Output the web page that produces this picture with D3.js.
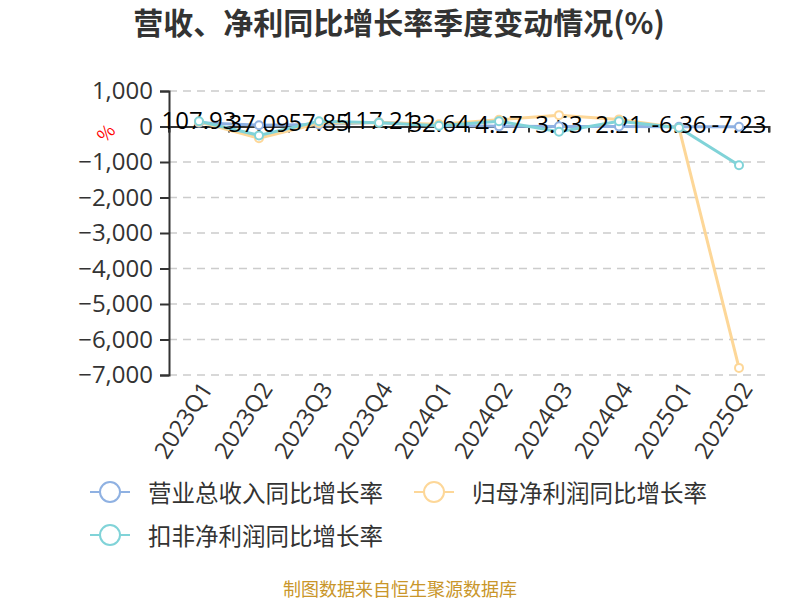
<!DOCTYPE html>
<html>
<head>
<meta charset="utf-8">
<script src="https://cdn.jsdelivr.net/npm/d3@7"></script>
<style>
  body { margin: 0; background: #fff; }
  text { font-family: "Noto Sans CJK SC", "Noto Sans", sans-serif; }
</style>
</head>
<body>
<div class="canvas"></div>
<script>
// 数据
const quarters = ['2023Q1', '2023Q2', '2023Q3', '2023Q4', '2024Q1', '2024Q2', '2024Q3', '2024Q4', '2025Q1', '2025Q2']
const revenue = [107.93, 37.09, 57.85, 117.21, 32.64, 4.27, 3.53, 2.21, -6.36, -7.23]
const netProfit = [130, -330, 90, 110, 60, 190, 320, 200, -40, -6800]
const deducted = [150, -250, 150, 105, 20, 150, -150, 150, -35, -1090]
const yTicks = [1000, 0, -1000, -2000, -3000, -4000, -5000, -6000, -7000]
const seriesNames = ['营业总收入同比增长率', '归母净利润同比增长率', '扣非净利润同比增长率']
const colors = ['#8fb1e2', '#fdd798', '#80d3d8']

const svg = d3.select('.canvas')
    .append('svg')
    .attr('width', 800)
    .attr('height', 600)

const margin = { top: 91, right: 31, bottom: 225, left: 169 }
const graphWidth = 800 - margin.left - margin.right
const graphHeight = 600 - margin.top - margin.bottom

// 标题
svg.append('text')
    .attr('x', 399)
    .attr('y', 34)
    .attr('text-anchor', 'middle')
    .attr('font-size', 30)
    .attr('font-weight', 'bold')
    .attr('fill', '#333')
    .text('营收、净利同比增长率季度变动情况(%)')

const graph = svg.append('g')
    .attr('transform', `translate(${margin.left},${margin.top})`)

// scale
const x = d3.scaleBand()
    .domain(quarters)
    .range([0, graphWidth])

const y = d3.scaleLinear()
    .domain([1000, -7000])
    .range([0, graphHeight])

// 网格线
graph.append('g')
    .selectAll('line')
    .data(yTicks.filter(d => d !== 0))
    .enter()
    .append('line')
    .attr('x1', 0)
    .attr('x2', graphWidth)
    .attr('y1', d => y(d))
    .attr('y2', d => y(d))
    .attr('stroke', '#ccc')
    .attr('stroke-width', 1.5)
    .attr('stroke-dasharray', '8,6')

// y轴
const yAxis = d3.axisLeft(y)
    .tickValues(yTicks)
    .tickSize(9)
    .tickPadding(7)
    .tickFormat(d3.format(','))
const yAxisGroup = graph.append('g').call(yAxis)
yAxisGroup.select('.domain').attr('stroke', '#333').attr('stroke-width', 2)
yAxisGroup.selectAll('.tick line').attr('stroke', '#333').attr('stroke-width', 2)
yAxisGroup.selectAll('text')
    .attr('font-size', 24)
    .attr('fill', '#333')
    .style('font-family', '"Open Sans", "Noto Sans", sans-serif')

svg.append('text')
    .attr('transform', 'translate(105,132) rotate(-45)')
    .attr('text-anchor', 'middle')
    .attr('dominant-baseline', 'central')
    .attr('font-size', 18)
    .attr('fill', 'red')
    .text('%')

// x轴 (零线)
const xAxis = d3.axisBottom(x)
    .tickSizeOuter(0)
    .tickSize(6)
    .tickFormat('')
const xAxisGroup = graph.append('g')
    .attr('transform', `translate(0,${y(0)})`)
    .call(xAxis)
xAxisGroup.select('.domain').attr('stroke', '#333').attr('stroke-width', 2)
xAxisGroup.selectAll('.tick line')
    .attr('stroke', '#333')
    .attr('stroke-width', 2)
    .attr('transform', `translate(${-x.bandwidth() / 2},0)`)
xAxisGroup.append('line')
    .attr('x1', graphWidth).attr('x2', graphWidth)
    .attr('y1', 0).attr('y2', 6)
    .attr('stroke', '#333').attr('stroke-width', 2)

// x轴标签
graph.append('g')
    .selectAll('text')
    .data(quarters)
    .enter()
    .append('text')
    .attr('transform', d => `translate(${x(d) + x.bandwidth() / 2 + 7},${graphHeight + 9}) rotate(-57)`)
    .attr('text-anchor', 'end')
    .attr('dominant-baseline', 'central')
    .attr('font-size', 23.5)
    .attr('fill', '#333')
    .style('font-family', '"Open Sans", "Noto Sans", sans-serif')
    .text(d => d)

const cx = (d, i) => x(quarters[i]) + x.bandwidth() / 2
const line = d3.line()
    .x(cx)
    .y(d => y(d))

const allSeries = [revenue, netProfit, deducted]

allSeries.forEach((s, k) => {
    graph.append('path')
        .datum(s)
        .attr('d', line)
        .attr('fill', 'none')
        .attr('stroke', colors[k])
        .attr('stroke-width', 3)
})

// 数据标签
graph.append('g')
    .selectAll('text')
    .data(revenue)
    .enter()
    .append('text')
    .attr('x', cx)
    .attr('y', d => y(d) - 3)
    .attr('text-anchor', 'middle')
    .attr('dominant-baseline', 'central')
    .attr('font-size', 24)
    .attr('fill', '#000')
    .style('font-family', '"Open Sans", "Noto Sans", sans-serif')
    .text(d => d)

allSeries.forEach((s, k) => {
    graph.append('g')
        .selectAll('circle')
        .data(s)
        .enter()
        .append('circle')
        .attr('cx', cx)
        .attr('cy', d => y(d))
        .attr('r', 4)
        .attr('fill', '#fff')
        .attr('stroke', colors[k])
        .attr('stroke-width', 2)
})

// 图例
const legendPos = [[90, 492], [414, 492], [90, 535]]
seriesNames.forEach((name, k) => {
    const g = svg.append('g')
        .attr('transform', `translate(${legendPos[k][0]},${legendPos[k][1]})`)
    g.append('line')
        .attr('x1', 0).attr('x2', 40)
        .attr('stroke', colors[k])
        .attr('stroke-width', 2)
    g.append('circle')
        .attr('cx', 20)
        .attr('r', 10)
        .attr('fill', '#fff')
        .attr('stroke', colors[k])
        .attr('stroke-width', 2)
    g.append('text')
        .attr('x', 58)
        .attr('dominant-baseline', 'central')
        .attr('font-size', 23.5)
        .attr('fill', '#333')
        .text(name)
})

// 来源
svg.append('text')
    .attr('x', 400)
    .attr('y', 588)
    .attr('text-anchor', 'middle')
    .attr('dominant-baseline', 'central')
    .attr('font-size', 18)
    .attr('fill', '#c9962a')
    .text('制图数据来自恒生聚源数据库')
</script>
</body>
</html>
